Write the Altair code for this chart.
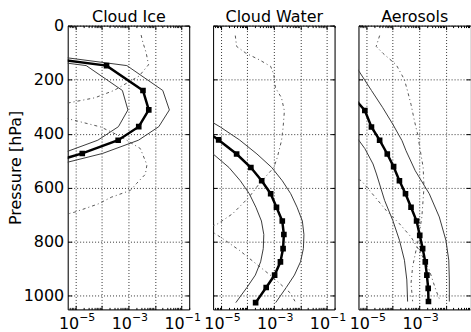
import math

import altair as alt
import pandas as pd

FONT = "DejaVu Sans"

# Profiles: pressure levels (hPa) with log10 of the plotted quantity.
# Cloud ice
ice_p = [90, 148, 240, 312, 374, 424, 473, 520]
ice_med = [-8.4, -3.83, -2.45, -2.23, -2.61, -3.39, -4.75, -6.4]
ice_hi = [-7.6, -3.06, -1.70, -1.45, -1.85, -2.62, -3.98, -5.9]
ice_lo = [-9.2, -4.60, -3.23, -3.02, -3.38, -4.16, -5.52, -7.2]
ice_dd1_p = [35, 60, 100, 145, 187, 240, 267, 286, 310]
ice_dd1 = [-2.52, -2.46, -2.33, -2.24, -2.6, -3.55, -4.27, -5.27, -6.8]
ice_dd2_p = [320, 345, 375, 410, 455, 515, 550, 585, 610, 635, 660, 690, 720]
ice_dd2 = [-6.5, -5.27, -4.05, -3.3, -2.55, -2.3, -2.36, -2.7, -2.93, -3.65, -4.15, -5.03, -6.2]

# Cloud water
liq_p = [375, 423, 475, 525, 574, 622, 672, 723, 773, 825, 874, 923, 969, 1025]
liq_med = [-5.8, -5.09, -4.41, -3.87, -3.46, -3.12, -2.90, -2.68, -2.62, -2.65, -2.75, -2.97, -3.29, -3.69]
liq_hi_p = [325, 375, 423, 475, 525, 574, 622, 672, 723, 773, 825, 874, 923, 969, 1025]
liq_hi = [-5.9, -5.03, -4.30, -3.64, -3.08, -2.68, -2.36, -2.12, -1.92, -1.86, -1.88, -1.99, -2.22, -2.53, -2.93]
liq_lo_p = [423, 475, 525, 574, 622, 672, 723, 773, 825, 874, 923, 969, 1025]
liq_lo = [-6.0, -5.3, -4.7, -4.27, -3.93, -3.68, -3.47, -3.38, -3.40, -3.50, -3.70, -4.02, -4.44]
liq_dd1_p = [37, 77, 102, 126, 151, 181, 230, 267, 316, 378, 426, 488, 525, 586, 635, 696, 733, 770]
liq_dd1 = [-4.46, -4.41, -4.06, -3.56, -3.12, -3.0, -2.94, -2.71, -2.60, -2.65, -2.71, -2.87, -3.0,
           -3.56, -3.94, -4.56, -5.12, -6.0]
liq_dd2_p = [745, 765, 788, 831, 880, 929, 990, 1020]
liq_dd2 = [-6.2, -5.3, -4.94, -4.31, -3.69, -3.06, -2.37, -2.2]

# Aerosols
aer_p = [265, 314, 375, 424, 475, 522, 574, 622, 672, 723, 776, 825, 874, 923, 972, 1021]
aer_med = [-5.5, -5.06, -4.81, -4.50, -4.21, -3.97, -3.75, -3.52, -3.31, -3.1, -2.98, -2.87, -2.77, -2.71, -2.66, -2.65]
aer_hi_p = [120, 163, 240, 304, 365, 426, 463, 537, 622, 708, 794, 868, 941, 1021]
aer_hi = [-5.7, -5.32, -4.81, -4.38, -4.0, -3.65, -3.5, -3.15, -2.62, -2.24, -1.99, -1.88, -1.86, -1.86]
aer_lo_p = [380, 420, 455, 512, 549, 647, 721, 794, 868, 941, 1021]
aer_lo = [-5.8, -5.32, -5.06, -4.75, -4.62, -4.31, -4.0, -3.75, -3.56, -3.47, -3.44]
aer_dd1_p = [37, 77, 102, 145, 200, 243, 292, 353, 402, 439, 525, 600, 708, 782, 831, 892, 953, 1020]
aer_dd1 = [-4.50, -4.63, -4.38, -3.87, -3.56, -3.44, -3.31, -3.18, -3.06, -3.0, -2.85, -2.82, -2.9,
           -3.02, -3.12, -3.25, -3.31, -3.25]
aer_dd2_p = [540, 574, 610, 684, 733, 782, 840, 904, 978, 1020]
aer_dd2 = [-6.0, -5.19, -4.88, -4.25, -3.75, -3.31, -2.95, -2.62, -2.37, -2.2]

PANEL_W = 122
PANEL_H = 285
X_MIN, X_MAX = 5e-6, 0.2
P_DOMAIN = [0, 1050]
DECADES = [1e-5, 1e-4, 1e-3, 1e-2, 1e-1]
P_TICKS = [0, 200, 400, 600, 800, 1000]

# the last panel is cut at the page edge: same pixels per decade, shorter range
AER_W = 112
PX_PER_DECADE = PANEL_W / math.log10(X_MAX / X_MIN)
AER_X_MAX = 10 ** (math.log10(X_MIN) + AER_W / PX_PER_DECADE)

BASE_EXPR = ("(datum.value < 2e-5 || (datum.value > 5e-4 && datum.value < 2e-3) "
             "|| datum.value > 5e-2) ? '10' : ''")
EXP_EXPR = ("datum.value < 2e-5 ? '\u22125' : (datum.value > 5e-4 && datum.value < 2e-3) "
            "? '\u22123' : datum.value > 5e-2 ? '\u22121' : ''")


def frame(p, logv):
    return pd.DataFrame({"p": p, "v": [10.0 ** e for e in logv], "i": list(range(len(p)))})


def tick_axis(orient, values, size):
    return alt.Axis(orient=orient, values=values, offset=-size, tickSize=size, tickColor="black",
                    tickWidth=1, domain=False, labels=False, grid=False, title=None)


def edge_axis(orient, shown=True):
    return alt.Axis(orient=orient, ticks=False, labels=False, grid=False, title=None,
                    domain=shown, domainColor="black", domainWidth=1)


def panel(title, dd1, dd2, hi, lo, med, first, width, x_max, right_edge):
    in_range = lambda v: X_MIN <= v <= x_max
    decades = [d for d in DECADES if in_range(d)]
    minor = [m * d for d in [1e-6, 1e-5, 1e-4, 1e-3, 1e-2, 1e-1] for m in range(2, 10) if in_range(m * d)]

    def xenc(axis):
        return alt.X("v:Q", scale=alt.Scale(type="log", domain=[X_MIN, x_max], nice=False), axis=axis)

    def yenc(axis):
        return alt.Y("p:Q", scale=alt.Scale(domain=P_DOMAIN, reverse=True, nice=False, zero=False),
                     axis=axis)

    x_base = alt.Axis(orient="bottom", values=decades, offset=-4, tickSize=4, tickColor="black",
                      grid=True, gridColor="black", gridDash=[1, 2], gridWidth=0.8, domain=False,
                      labelExpr=BASE_EXPR, labelFontSize=16, labelAlign="right", labelOffset=3,
                      labelPadding=6, labelOverlap=False, labelFlush=False, labelColor="black",
                      title=None)
    x_exp = alt.Axis(orient="bottom", values=decades, ticks=False, tickSize=0,
                     domain=True, domainColor="black", domainWidth=1,
                     grid=False, labelExpr=EXP_EXPR, labelFontSize=11, labelAlign="left",
                     labelOffset=3, labelPadding=2, labelOverlap=False, labelFlush=False,
                     labelColor="black", title=None)
    # top edge of the frame, carrying the panel heading
    x_top = alt.Axis(orient="top", ticks=False, tickSize=0, labels=False, grid=False,
                     domain=True, domainColor="black", domainWidth=1,
                     title=title, titleFontSize=16, titleFontWeight="normal", titleColor="black",
                     titleFont=FONT, titlePadding=1)
    y_common = dict(orient="left", values=P_TICKS, offset=-4, tickSize=4, tickColor="black",
                    grid=True, gridColor="black", gridDash=[1, 2], gridWidth=0.8, domain=False)
    if first:
        y_left = alt.Axis(**y_common, format="d", labelFontSize=16, labelPadding=4,
                          labelColor="black", title="Pressure [hPa]", titleFontSize=16,
                          titleFontWeight="normal", titleColor="black", titlePadding=0)
    else:
        y_left = alt.Axis(**y_common, labels=False, title=None)

    dash = dict(clip=True, color="#555555", strokeWidth=1, strokeDash=[3, 3, 1, 3])
    thin = dict(clip=True, color="#3a3a3a", strokeWidth=1)
    order = alt.Order("i:Q")

    l1 = alt.Chart(dd1).mark_line(**dash).encode(x=xenc(x_base), y=yenc(y_left), order=order)
    l2 = alt.Chart(dd2).mark_line(**dash).encode(x=xenc(tick_axis("top", decades, 4)),
                                                 y=yenc(tick_axis("right", P_TICKS, 4)), order=order)
    l3 = alt.Chart(hi).mark_line(**thin).encode(x=xenc(tick_axis("bottom", minor, 2)),
                                                y=yenc(edge_axis("left")), order=order)
    l4 = alt.Chart(lo).mark_line(**thin).encode(x=xenc(tick_axis("top", minor, 2)),
                                                y=yenc(edge_axis("right", right_edge)), order=order)
    l5 = alt.Chart(med).mark_line(clip=True, color="black", strokeWidth=2.5).encode(
        x=xenc(x_exp), y=yenc(None), order=order)
    l6 = alt.Chart(med).mark_point(clip=True, shape="square", size=32, filled=True, color="black",
                                   opacity=1).encode(x=xenc(x_top), y=yenc(None))

    return alt.layer(l1, l2, l3, l4, l5, l6).resolve_axis(x="independent", y="independent").properties(
        width=width, height=PANEL_H,
    )


p_ice = panel("Cloud Ice", frame(ice_dd1_p, ice_dd1), frame(ice_dd2_p, ice_dd2),
              frame(ice_p, ice_hi), frame(ice_p, ice_lo), frame(ice_p, ice_med), True,
              PANEL_W, X_MAX, True)
p_liq = panel("Cloud Water", frame(liq_dd1_p, liq_dd1), frame(liq_dd2_p, liq_dd2),
              frame(liq_hi_p, liq_hi), frame(liq_lo_p, liq_lo), frame(liq_p, liq_med), False,
              PANEL_W, X_MAX, True)
p_aer = panel("Aerosols", frame(aer_dd1_p, aer_dd1), frame(aer_dd2_p, aer_dd2),
              frame(aer_hi_p, aer_hi), frame(aer_lo_p, aer_lo), frame(aer_p, aer_med), False,
              AER_W, AER_X_MAX, False)

chart = alt.hconcat(p_ice, p_liq, p_aer, spacing=24, bounds="flush").properties(
    padding={"left": 6, "top": 7, "right": 0, "bottom": 0}
).configure_view(strokeWidth=0).configure_axis(
    labelFont=FONT, titleFont=FONT
).configure(font=FONT)

chart.save("out.html", embed_options={"renderer": "svg", "actions": False})
